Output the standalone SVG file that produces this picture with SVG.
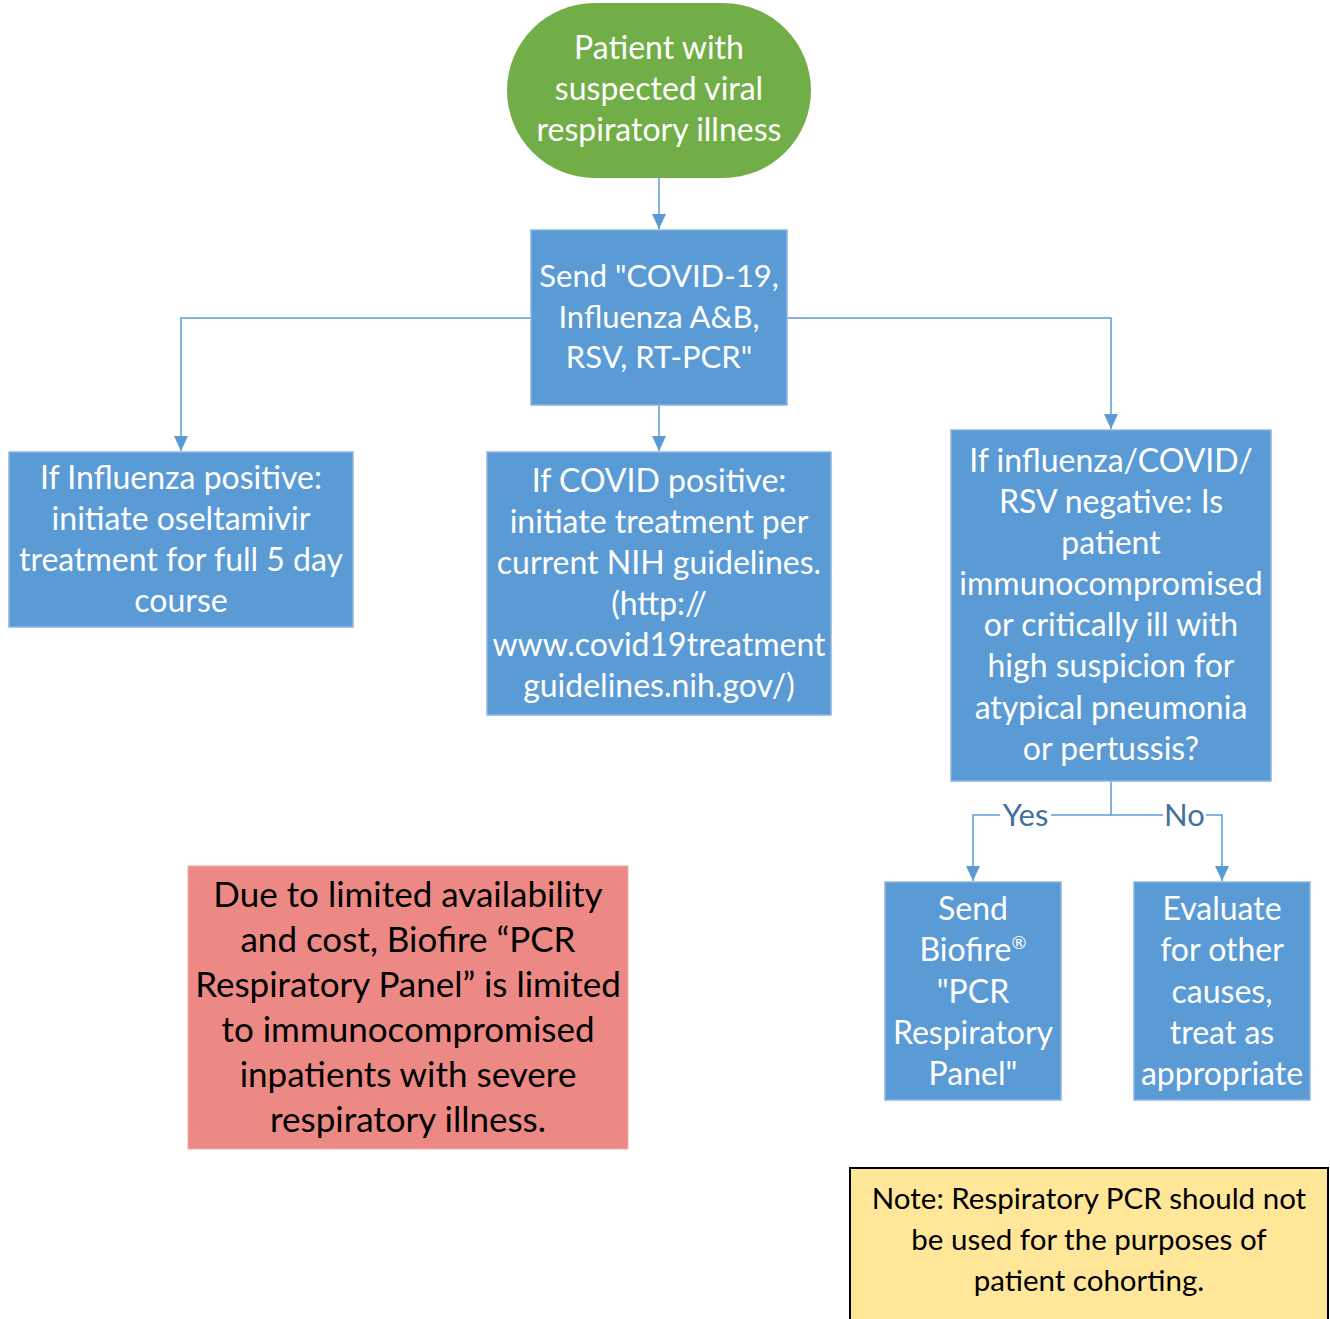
<svg xmlns="http://www.w3.org/2000/svg" width="1330" height="1319" viewBox="0 0 1330 1319">
<style>
  .box { fill: #5B9BD5; stroke: #8DB6E0; stroke-width: 1.5; }
  .wt { font-family: Lato, "Open Sans", "Liberation Sans", sans-serif; font-size: 32px; fill: #FFFFFF; text-anchor: middle; }
  .wt31 { font-size: 31px; }
  .bt { font-family: Lato, "Open Sans", "Liberation Sans", sans-serif; fill: #000000; text-anchor: middle; }
  .conn { fill: none; stroke: #5B9BD5; stroke-width: 1.5; }
  .lbl { font-family: Lato, "Open Sans", "Liberation Sans", sans-serif; font-size: 31px; fill: #41719C; text-anchor: middle; }
</style>
<defs>
  <marker id="arr" markerUnits="userSpaceOnUse" markerWidth="16" markerHeight="14" refX="15" refY="7" orient="auto">
    <path d="M0,0 L15,7 L0,14 Z" fill="#5B9BD5"/>
  </marker>
</defs>
<rect width="1330" height="1319" fill="#FFFFFF"/>

<g id="connectors">
  <path class="conn" d="M659,178 V229" marker-end="url(#arr)"/>
  <path class="conn" d="M659,405 V451" marker-end="url(#arr)"/>
  <path class="conn" d="M531,318 H181 V451" marker-end="url(#arr)"/>
  <path class="conn" d="M787,318 H1111 V429" marker-end="url(#arr)"/>
  <path class="conn" d="M1111,781 V815 H973 V881" marker-end="url(#arr)"/>
  <path class="conn" d="M1111,815 H1222 V881" marker-end="url(#arr)"/>
  <rect x="1000" y="800" width="51" height="30" fill="#FFFFFF"/>
  <text class="lbl" x="1025.5" y="826">Yes</text>
  <rect x="1163" y="800" width="43" height="30" fill="#FFFFFF"/>
  <text class="lbl" x="1184.5" y="826">No</text>
</g>

<g id="start">
  <rect x="507" y="3" width="304" height="175" rx="87.5" ry="87.5" fill="#72AE47"/>
  <text class="wt" x="659" y="59">Patient with</text>
  <text class="wt" x="659" y="100">suspected viral</text>
  <text class="wt" x="659" y="141">respiratory illness</text>
</g>

<g id="send">
  <rect class="box" x="531" y="230" width="256" height="175"/>
  <text class="wt wt31" x="659" y="287">Send "COVID-19,</text>
  <text class="wt wt31" x="659" y="328">Influenza A&amp;B,</text>
  <text class="wt wt31" x="659" y="368">RSV, RT-PCR"</text>
</g>

<g id="influenza">
  <rect class="box" x="9" y="452" width="344" height="175"/>
  <text class="wt" x="181" y="489">If Influenza positive:</text>
  <text class="wt" x="181" y="530">initiate oseltamivir</text>
  <text class="wt" x="181" y="571">treatment for full 5 day</text>
  <text class="wt" x="181" y="612">course</text>
</g>

<g id="covid">
  <rect class="box" x="487" y="452" width="344" height="263"/>
  <text class="wt" x="659" y="492">If COVID positive:</text>
  <text class="wt" x="659" y="533">initiate treatment per</text>
  <text class="wt" x="659" y="574">current NIH guidelines.</text>
  <text class="wt" x="659" y="615">(http://</text>
  <text class="wt" x="659" y="656">www.covid19treatment</text>
  <text class="wt" x="659" y="697">guidelines.nih.gov/)</text>
</g>

<g id="negative">
  <rect class="box" x="951" y="430" width="320" height="351"/>
  <text class="wt" x="1111" y="472">If influenza/COVID/</text>
  <text class="wt" x="1111" y="513">RSV negative: Is</text>
  <text class="wt" x="1111" y="554">patient</text>
  <text class="wt" x="1111" y="595">immunocompromised</text>
  <text class="wt" x="1111" y="636">or critically ill with</text>
  <text class="wt" x="1111" y="677">high suspicion for</text>
  <text class="wt" x="1111" y="719">atypical pneumonia</text>
  <text class="wt" x="1111" y="760">or pertussis?</text>
</g>

<g id="biofire">
  <rect class="box" x="885" y="882" width="176" height="218"/>
  <text class="wt" x="973" y="920">Send</text>
  <text class="wt" x="973" y="961">Biofire<tspan font-size="18" dy="-12">®</tspan></text>
  <text class="wt" x="973" y="1003">"PCR</text>
  <text class="wt" x="973" y="1044">Respiratory</text>
  <text class="wt" x="973" y="1085">Panel"</text>
</g>

<g id="evaluate">
  <rect class="box" x="1134" y="882" width="176" height="218"/>
  <text class="wt" x="1222" y="920">Evaluate</text>
  <text class="wt" x="1222" y="961">for other</text>
  <text class="wt" x="1222" y="1003">causes,</text>
  <text class="wt" x="1222" y="1044">treat as</text>
  <text class="wt" x="1222" y="1085">appropriate</text>
</g>

<g id="limited">
  <rect x="188" y="866" width="440" height="283" fill="#EC8985" stroke="#F2B0AD" stroke-width="1"/>
  <text class="bt" font-size="35" x="408" y="907">Due to limited availability</text>
  <text class="bt" font-size="35" x="408" y="952">and cost, Biofire “PCR</text>
  <text class="bt" font-size="35" x="408" y="997">Respiratory Panel” is limited</text>
  <text class="bt" font-size="35" x="408" y="1042">to immunocompromised</text>
  <text class="bt" font-size="35" x="408" y="1087">inpatients with severe</text>
  <text class="bt" font-size="35" x="408" y="1132">respiratory illness.</text>
</g>

<g id="note">
  <rect x="850" y="1168" width="478" height="160" fill="#FFE699" stroke="#000000" stroke-width="2"/>
  <text class="bt" font-size="29.5" x="1089" y="1209">Note: Respiratory PCR should not</text>
  <text class="bt" font-size="29.5" x="1089" y="1250">be used for the purposes of</text>
  <text class="bt" font-size="29.5" x="1089" y="1291">patient cohorting.</text>
</g>
</svg>
